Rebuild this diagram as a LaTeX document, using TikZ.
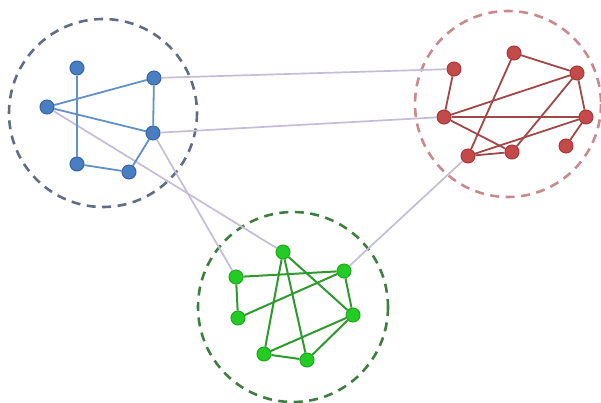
\documentclass[tikz,border=0pt]{standalone}
\begin{document}
\begin{tikzpicture}[x=1pt,y=-1pt,
  vb/.style={circle,fill=bnode,draw=bnodeb,line width=1pt,inner sep=0pt,minimum size=14pt},
  vr/.style={circle,fill=rnode,draw=rnodeb,line width=1pt,inner sep=0pt,minimum size=14pt},
  vg/.style={circle,fill=gnode,draw=gnodeb,line width=1pt,inner sep=0pt,minimum size=14pt},
  eb/.style={draw=bedge,line width=1.8pt},
  er/.style={draw=redge,line width=1.8pt},
  eg/.style={draw=gedge,line width=2pt},
  ex/.style={draw=xedge,line width=1.7pt},
  ring/.style={line width=2.6pt,dash pattern=on 9pt off 6.5pt}]
\definecolor{bnode}{HTML}{4A7EC2}
\definecolor{bnodeb}{HTML}{3A64A0}
\definecolor{bedge}{HTML}{6290C8}
\definecolor{rnode}{HTML}{C44A4A}
\definecolor{rnodeb}{HTML}{A83838}
\definecolor{redge}{HTML}{A04848}
\definecolor{gnode}{HTML}{22CC22}
\definecolor{gnodeb}{HTML}{1FA81F}
\definecolor{gedge}{HTML}{2E9A2E}
\definecolor{xedge}{HTML}{C4BCD8}
\definecolor{bring}{HTML}{626C86}
\definecolor{rring}{HTML}{C88A8E}
\definecolor{gring}{HTML}{3E7E3E}
\useasboundingbox (0,0) rectangle (601,402);
% rings
\coordinate (cb) at (103,113);
\coordinate (cr) at (508,104);
\coordinate (cg) at (293,307);
\draw[ring,draw=bring] (cb) circle (94);
\draw[ring,draw=rring] (cr) circle (93);
\draw[ring,draw=gring] (cg) circle (95);
% nodes
\node[vb] (b1) at (77,68) {};
\node[vb] (b2) at (47,107) {};
\node[vb] (b3) at (154,78) {};
\node[vb] (b4) at (153,133) {};
\node[vb] (b5) at (77,164) {};
\node[vb] (b6) at (129,172) {};
\node[vr] (r1) at (454,69) {};
\node[vr] (r2) at (514,53) {};
\node[vr] (r3) at (577,73) {};
\node[vr] (r4) at (444,117) {};
\node[vr] (r5) at (586,117) {};
\node[vr] (r6) at (566,146) {};
\node[vr] (r7) at (512,152) {};
\node[vr] (r8) at (468,156) {};
\node[vg] (g1) at (283,252) {};
\node[vg] (g2) at (236,277) {};
\node[vg] (g3) at (344,271) {};
\node[vg] (g4) at (238,318) {};
\node[vg] (g5) at (353,315) {};
\node[vg] (g6) at (264,354) {};
\node[vg] (g7) at (307,360) {};
% inter-cluster edges
\path[ex] (b3) -- (r1);
\path[ex] (b4) -- (r4);
\path[ex] (b2) -- (g1);
\path[ex] (b4) -- (g2);
\path[ex] (r8) -- (g3);
% blue edges
\path[eb] (b1) -- (b5);
\path[eb] (b2) -- (b3);
\path[eb] (b2) -- (b4);
\path[eb] (b3) -- (b4);
\path[eb] (b5) -- (b6);
\path[eb] (b6) -- (b4);
% red edges
\path[er] (r1) -- (r4);
\path[er] (r2) -- (r3);
\path[er] (r2) -- (r8);
\path[er] (r3) -- (r4);
\path[er] (r3) -- (r7);
\path[er] (r3) -- (r5);
\path[er] (r4) -- (r5);
\path[er] (r4) -- (r7);
\path[er] (r5) -- (r8);
\path[er] (r5) -- (r6);
\path[er] (r8) -- (r7);
% green edges
\path[eg] (g2) -- (g3);
\path[eg] (g2) -- (g4);
\path[eg] (g4) -- (g3);
\path[eg] (g1) -- (g6);
\path[eg] (g1) -- (g7);
\path[eg] (g1) -- (g5);
\path[eg] (g3) -- (g5);
\path[eg] (g5) -- (g6);
\path[eg] (g6) -- (g7);
\path[eg] (g7) -- (g5);
\end{tikzpicture}
\end{document}
